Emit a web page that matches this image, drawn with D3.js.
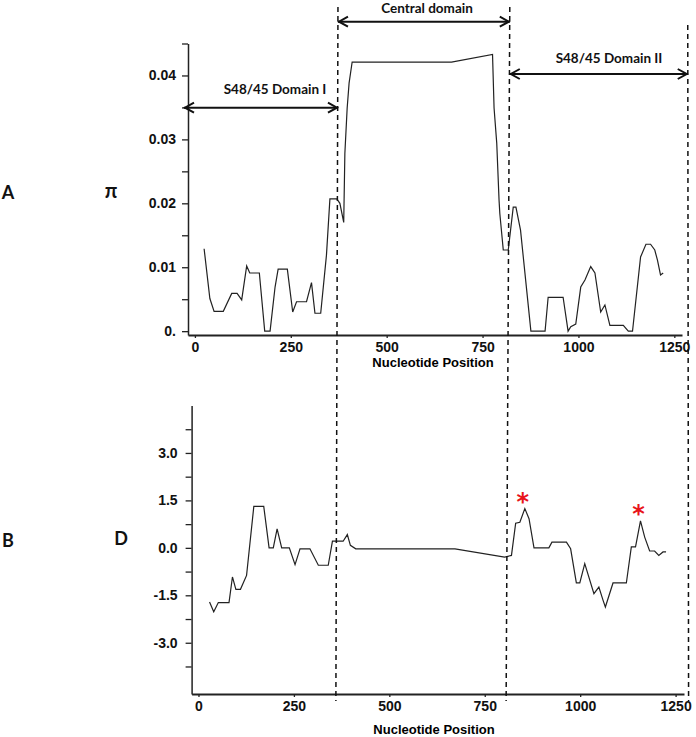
<!DOCTYPE html>
<html><head><meta charset="utf-8">
<script src="https://cdn.jsdelivr.net/npm/d3@7"></script>
<style>body{margin:0;background:#fff}svg{display:block}</style>
</head><body>
<script>
// ---- data ----
const piPos = [24,39,50,74,96,110,122,135,143,168,182,196,209,217,241,255,265,291,304,313,328,343,352,370,378,388,391,397,402,410,669,776,780,787,793,795,804,817,830,837,849,876,913,921,960,973,980,993,1006,1017,1032,1043,1058,1069,1082,1117,1130,1141,1162,1176,1188,1199,1206,1214,1221];
const piVal = [0.0129,0.0051,0.0031,0.0031,0.0059,0.0059,0.0049,0.0102,0.0091,0.0091,0,0,0.0069,0.0097,0.0097,0.0030,0.0046,0.0046,0.0076,0.0028,0.0028,0.0119,0.0207,0.0207,0.0200,0.0170,0.0278,0.0349,0.0388,0.0421,0.0421,0.0433,0.0349,0.0294,0.0205,0.0184,0.0127,0.0127,0.0194,0.0194,0.0158,0,0,0.0053,0.0053,0,0.0007,0.0011,0.0069,0.0080,0.0101,0.0091,0.0030,0.0041,0.0009,0.0009,0,0,0.0116,0.0136,0.0136,0.0127,0.0111,0.0088,0.0091];
const dPos = [29,40,52,80,89,98,110,126,145,171,185,196,206,218,238,253,266,292,314,340,351,379,390,398,412,672,802,820,831,842,855,866,879,918,926,964,975,990,999,1012,1036,1049,1060,1066,1086,1121,1134,1145,1158,1169,1182,1195,1206,1217,1225];
const dVal = [-1.71,-2.02,-1.73,-1.73,-0.92,-1.31,-1.31,-0.87,1.31,1.31,0,0,0.6,0,0,-0.53,-0.03,-0.03,-0.55,-0.55,0.21,0.21,0.42,0.08,-0.03,-0.03,-0.29,-0.24,0.78,0.81,1.24,0.92,0,0,0.18,0.18,-0.03,-1.11,-1.11,-0.5,-1.45,-1.24,-1.66,-1.87,-1.11,-1.11,0.03,0.03,0.85,0.34,-0.1,-0.1,-0.24,-0.13,-0.13];
const xTicks = [0,250,500,750,1000,1250];
const piTicks = [0,0.005,0.01,0.015,0.02,0.025,0.03,0.035,0.04,0.045];
const dTicks = [-3.75,-3,-2.25,-1.5,-0.75,0,0.75,1.5,2.25,3,3.75];
const boundaryTop = [373,821,1285];
const boundaryBottom = [360,806,1284];
const asteriskPos = [855,1158];
const domainNames = ["S48/45 Domain I","Central domain","S48/45 Domain II"];

// ---- drawing ----
const svg = d3.select("body").append("svg").attr("width",696).attr("height",737);
const tickFont = "'Liberation Sans', Arial, sans-serif";
const labFont = "Lato, 'Open Sans', sans-serif";

const xTop = d3.scaleLinear().domain([-18,1270]).range([188,682]);
const yTop = d3.scaleLinear().domain([-0.0006,0.045]).range([335,43.5]);
const xBot = d3.scaleLinear().domain([-18,1272]).range([191.6,684]);
const yBot = d3.scaleLinear().domain([-4.62,4.5]).range([694,405.5]);

function styleAxis(g, lw){
  g.select(".domain").attr("stroke","#222").attr("stroke-width",lw);
  g.selectAll(".tick line").attr("stroke","#222").attr("stroke-width",1.3);
  g.selectAll("text").attr("font-family",tickFont).attr("font-weight","bold")
    .attr("font-size",14).attr("fill","#111");
}
const fmtX = d3.format("d");

// top axes
const gxT = svg.append("g").attr("transform","translate(0,335)")
  .call(d3.axisBottom(xTop).tickValues(xTicks).tickFormat(fmtX).tickSize(3).tickSizeOuter(0).tickPadding(4));
styleAxis(gxT,2);
const gyT = svg.append("g").attr("transform","translate(188,0)")
  .call(d3.axisLeft(yTop).tickValues(piTicks).tickSize(6).tickSizeOuter(0).tickPadding(6)
    .tickFormat(v=>{const k=Math.round(v*1000); if(k%10!==0) return ""; return k===0?"0.":v.toFixed(2);}));
styleAxis(gyT,1.5);

// bottom axes
const gxB = svg.append("g").attr("transform","translate(0,694)")
  .call(d3.axisBottom(xBot).tickValues(xTicks).tickFormat(fmtX).tickSize(3).tickSizeOuter(0).tickPadding(4));
styleAxis(gxB,2);
const gyB = svg.append("g").attr("transform","translate(191.6,0)")
  .call(d3.axisLeft(yBot).tickValues(dTicks).tickSize(6).tickSizeOuter(0).tickPadding(8)
    .tickFormat(v=>{const k=Math.round(v*100); if(k%150!==0) return ""; return v.toFixed(1);}));
styleAxis(gyB,1.5);

// axis titles
svg.append("text").attr("x",433).attr("y",367).attr("text-anchor","middle")
  .attr("font-family",tickFont).attr("font-weight","bold").attr("font-size",13).text("Nucleotide Position");
svg.append("text").attr("x",434).attr("y",734).attr("text-anchor","middle")
  .attr("font-family",tickFont).attr("font-weight","bold").attr("font-size",13).text("Nucleotide Position");

// panel labels
const lab = (t,x,y,fs)=>svg.append("text").attr("x",x).attr("y",y).attr("text-anchor","middle")
  .attr("dominant-baseline","central").attr("font-family",labFont).attr("font-weight","bold")
  .attr("font-size",fs).attr("fill","#111").text(t);
lab("A",8,192,18); lab("π",111,190,20); lab("B",8,540,18); lab("D",121,538,18);

// lines
const piData = piPos.map((p,i)=>[p,piVal[i]]);
const dData = dPos.map((p,i)=>[p,dVal[i]]);
svg.append("path").datum(piData).attr("fill","none").attr("stroke","#222").attr("stroke-width",1.2)
  .attr("d",d3.line().x(d=>xTop(d[0])).y(d=>yTop(d[1])));
svg.append("path").datum(dData).attr("fill","none").attr("stroke","#222").attr("stroke-width",1.2)
  .attr("d",d3.line().x(d=>xBot(d[0])).y(d=>yBot(d[1])));

// dashed boundaries
const dashTop = [7,7,25];
boundaryTop.forEach((b,i)=>{
  svg.append("line").attr("x1",xTop(b)).attr("y1",dashTop[i]).attr("x2",xBot(boundaryBottom[i])).attr("y2",701)
    .attr("stroke","#111").attr("stroke-width",1.5).attr("stroke-dasharray","5,4");
});

// domain arrows
function arrow(x1,x2,y){
  const g = svg.append("g").attr("stroke","#111").attr("stroke-width",2).attr("fill","none");
  g.append("line").attr("x1",x1).attr("y1",y).attr("x2",x2).attr("y2",y);
  g.append("polyline").attr("points",`${x1+10},${y-5} ${x1+1},${y} ${x1+10},${y+5}`);
  g.append("polyline").attr("points",`${x2-10},${y-5} ${x2-1},${y} ${x2-10},${y+5}`);
}
const arrowY = [107.7,21.7,74];
const textY = [89,8,58];
const starts = [184, xTop(boundaryTop[0]), xTop(boundaryTop[1])];
const ends = [xTop(boundaryTop[0]), xTop(boundaryTop[1]), xTop(boundaryTop[2])];
domainNames.forEach((n,i)=>{
  arrow(starts[i],ends[i],arrowY[i]);
});
const textX = [275,427,609];
domainNames.forEach((n,i)=>{
  svg.append("text").attr("x",textX[i]).attr("y",textY[i]).attr("text-anchor","middle")
    .attr("dominant-baseline","central").attr("font-family",labFont).attr("font-weight","bold")
    .attr("font-size",13.5).attr("fill","#111").text(n);
});

// asterisks at the two peaks
asteriskPos.forEach(p=>{
  const i = dPos.indexOf(p);
  svg.append("text").attr("x",xBot(p)-2).attr("y",yBot(dVal[i])+1).attr("text-anchor","middle")
    .attr("font-family","'DejaVu Sans', sans-serif").attr("font-weight","bold").attr("font-size",24).attr("fill","#e8141b").text("*");
});
</script>
</body></html>
